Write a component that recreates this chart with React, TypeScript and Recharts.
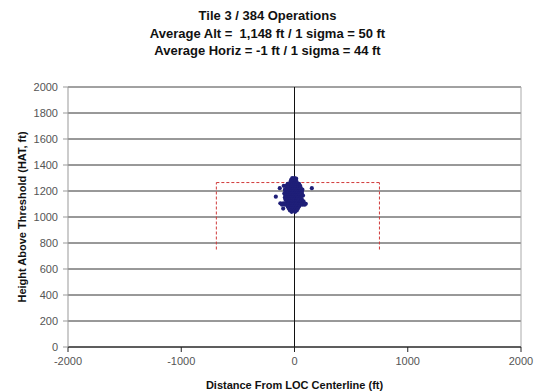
import { ScatterChart, Scatter, XAxis, YAxis, CartesianGrid, ReferenceLine } from 'recharts';

const titleLines = [
  'Tile 3 / 384 Operations',
  'Average Alt =  1,148 ft / 1 sigma = 50 ft',
  'Average Horiz = -1 ft / 1 sigma = 44 ft',
];

const xTicks = [-2000, -1000, 0, 1000, 2000];
const yTicks = [0, 200, 400, 600, 800, 1000, 1200, 1400, 1600, 1800, 2000];

// dashed gate box (ft)
const gateLeft = -690;
const gateRight = 750;
const gateTop = 1265;
const gateBottom = 750;

// [horizontal offset ft, HAT ft]
const approachPoints: [number, number][] = [
  [-20, 1300], [0, 1300], [15, 1295], [-30, 1285], [-10, 1285], [10, 1282],
  [-35, 1272], [-15, 1270], [5, 1272], [20, 1268],
  [-60, 1255], [-40, 1255], [-20, 1255], [0, 1255], [20, 1255], [40, 1255],
  [-95, 1240], [-75, 1240], [-50, 1240], [-30, 1240], [-10, 1240], [10, 1240], [30, 1240], [50, 1240],
  [-130, 1222], [-70, 1225], [-50, 1225], [-30, 1225], [-10, 1225], [10, 1225], [30, 1225], [55, 1225], [153, 1222],
  [-85, 1210], [-55, 1210], [-35, 1210], [-15, 1210], [5, 1210], [25, 1210], [45, 1210], [70, 1210],
  [-80, 1195], [-50, 1195], [-30, 1195], [-10, 1195], [10, 1195], [30, 1195], [50, 1195], [65, 1195],
  [-90, 1180], [-60, 1180], [-40, 1180], [-20, 1180], [0, 1180], [20, 1180], [40, 1180], [65, 1180],
  [-80, 1165], [-55, 1165], [-35, 1165], [-15, 1165], [5, 1165], [25, 1165], [45, 1165], [75, 1165],
  [-165, 1156],
  [-85, 1150], [-70, 1150], [-50, 1150], [-30, 1150], [-10, 1150], [10, 1150], [30, 1150], [55, 1150],
  [-80, 1135], [-60, 1135], [-40, 1135], [-20, 1135], [0, 1135], [20, 1135], [40, 1135], [65, 1135],
  [-70, 1120], [-45, 1120], [-25, 1120], [-5, 1120], [15, 1120], [35, 1120], [55, 1120], [80, 1120],
  [-125, 1105], [-100, 1105], [-80, 1105], [-60, 1105], [-40, 1105], [-20, 1105], [0, 1105], [20, 1105],
  [40, 1105], [60, 1105], [80, 1105], [100, 1102],
  [-110, 1095], [-85, 1095], [-55, 1095], [-30, 1095], [-10, 1095], [10, 1095], [30, 1095], [50, 1095], [70, 1095], [90, 1095],
  [-60, 1080], [-40, 1080], [-20, 1080], [0, 1080], [20, 1080], [40, 1080],
  [-100, 1065], [-50, 1065], [-30, 1065], [-10, 1065], [10, 1065], [30, 1065],
  [-40, 1050], [-20, 1050], [0, 1050], [20, 1050],
  [-25, 1040], [5, 1040],
];

const data = approachPoints.map(([x, y]) => ({ x, y }));

const font = '"Liberation Sans", Arial, sans-serif';

function YTitle({ viewBox }: any) {
  const cx = 22;
  const cy = viewBox.y + viewBox.height / 2;
  return (
    <text
      x={cx}
      y={cy}
      transform={`rotate(-90, ${cx}, ${cy})`}
      textAnchor="middle"
      dominantBaseline="central"
      fontFamily={font}
      fontWeight="bold"
      fontSize={11}
      fill="#111"
    >
      Height Above Threshold (HAT, ft)
    </text>
  );
}

function Dot(props: any) {
  return <circle cx={props.cx} cy={props.cy} r={2.1} fill="#1f1f78" />;
}

export default function App() {
  return (
    <div style={{ position: 'relative', width: 535, height: 392, background: '#fff' }}>
      <style>{'body{margin:0}'}</style>
      <div
        style={{
          position: 'absolute',
          left: 0,
          top: 7,
          width: 535,
          textAlign: 'center',
          fontFamily: font,
          fontWeight: 'bold',
          fontSize: 13,
          lineHeight: '17.5px',
          color: '#111',
        }}
      >
        {titleLines.map((t) => (
          <div key={t} style={{ whiteSpace: 'pre' }}>{t}</div>
        ))}
      </div>
      <div style={{ position: 'absolute', left: 0, top: 0 }}>
        <ScatterChart width={535} height={392} margin={{ top: 87, right: 14, bottom: 0, left: 0 }}>
          <CartesianGrid vertical={false} stroke="#333" strokeWidth={1} />
          <XAxis
            type="number"
            dataKey="x"
            domain={[-2000, 2000]}
            ticks={xTicks}
            tickSize={5}
            tickMargin={5}
            height={45}
            stroke="#222"
            tick={{ fill: '#555', fontSize: 11, fontFamily: font }}
            label={{
              value: 'Distance From LOC Centerline (ft)',
              position: 'insideBottom',
              offset: 3,
              fill: '#111',
              fontSize: 11,
              fontWeight: 'bold',
              fontFamily: font,
            }}
          />
          <YAxis
            type="number"
            dataKey="y"
            domain={[0, 2000]}
            ticks={yTicks}
            width={68}
            tickSize={5}
            tickMargin={5}
            stroke="#999"
            tick={{ fill: '#555', fontSize: 11, fontFamily: font }}
            label={<YTitle />}
          />
          <ReferenceLine y={2000} stroke="#aaa" />
          <ReferenceLine x={2000} stroke="#aaa" />
          <ReferenceLine x={0} stroke="#111" />
          <ReferenceLine
            segment={[{ x: gateLeft, y: gateBottom }, { x: gateLeft, y: gateTop }]}
            stroke="#d03a3a"
            strokeDasharray="3 2"
          />
          <ReferenceLine
            segment={[{ x: gateLeft, y: gateTop }, { x: gateRight, y: gateTop }]}
            stroke="#d03a3a"
            strokeDasharray="3 2"
          />
          <ReferenceLine
            segment={[{ x: gateRight, y: gateBottom }, { x: gateRight, y: gateTop }]}
            stroke="#d03a3a"
            strokeDasharray="3 2"
          />
          <Scatter data={data} shape={<Dot />} isAnimationActive={false} />
        </ScatterChart>
      </div>
    </div>
  );
}
